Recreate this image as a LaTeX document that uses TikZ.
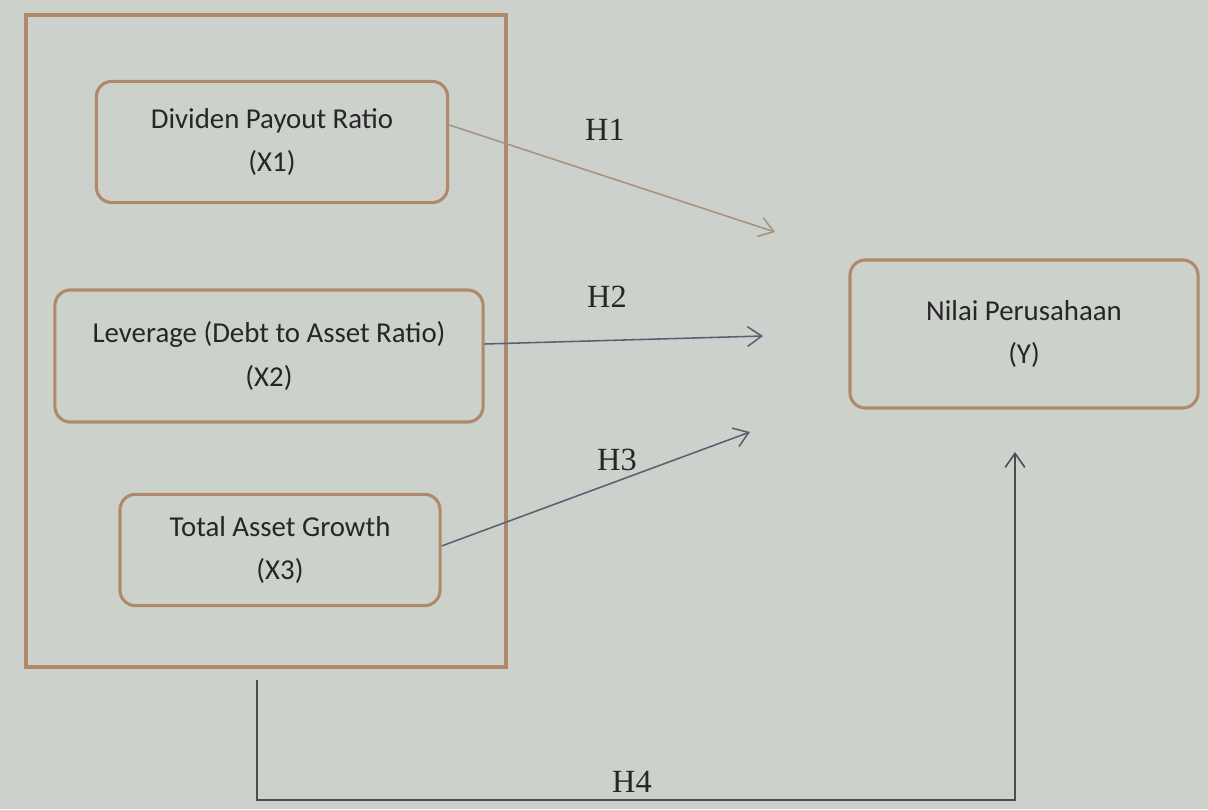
\documentclass[tikz,border=0pt]{standalone}
\usepackage{fontspec}
\setmainfont{Liberation Serif}
\newfontfamily\boxfont{Carlito}
\usetikzlibrary{arrows.meta}
\definecolor{bg}{HTML}{CDD1CC}
\definecolor{tan}{HTML}{B0896A}
\definecolor{arrtan}{HTML}{A8927E}
\definecolor{arrblue}{HTML}{596170}
\definecolor{arrdark}{HTML}{4A4D50}
\definecolor{ink}{HTML}{262626}
\tikzset{
  varbox/.style={draw=tan, line width=2.2pt, rounded corners=11pt, fill=bg,
    align=center, text=ink, font=\boxfont\fontsize{20.5}{31}\selectfont, inner sep=0pt},
  grpbox/.style={draw=tan, line width=2.4pt, inner sep=0pt},
  link/.style={line width=1.1pt, -{Straight Barb[length=10pt,width=14pt]}},
  hlab/.style={text=ink, font=\fontsize{23}{26}\selectfont, inner sep=0pt}
}
\begin{document}
\begin{tikzpicture}[x=0.025cm,y=-0.025cm]
\fill[bg] (0,0) rectangle (1208,809);
\useasboundingbox (0,0) rectangle (1208,809);
\node[grpbox, minimum width=12cm, minimum height=16.3cm] (grp) at (266,341) {};
\node[varbox, minimum width=8.78cm, minimum height=3.03cm] (x1) at (272,142) {Dividen Payout Ratio\\(X1)};
\node[varbox, minimum width=10.7cm, minimum height=3.3cm] (x2) at (269,356) {Leverage (Debt to Asset Ratio)\\(X2)};
\node[varbox, minimum width=8cm, minimum height=2.78cm] (x3) at (280,550) {Total Asset Growth\\(X3)};
\node[varbox, minimum width=8.7cm, minimum height=3.7cm] (y) at (1024,334) {Nilai Perusahaan\\(Y)};
\coordinate (e1) at (775,232);
\coordinate (e2) at (763,336);
\coordinate (e3) at (750,432);
\coordinate (s4) at (257,680);
\coordinate (b4) at (257,800);
\coordinate (e4) at (1015,452);
\draw[link, arrtan] ([yshift=0.425cm]x1.east) -- (e1);
\draw[link, arrblue] ([yshift=0.3cm]x2.east) -- (e2);
\draw[link, arrblue] ([yshift=0.1cm]x3.east) -- (e3);
\draw[link, arrdark] (s4) -- (b4) -| (e4);
\node[hlab] (h1) at (605,130) {H1};
\node[hlab] (h2) at (607,297) {H2};
\node[hlab] (h3) at (617,460) {H3};
\node[hlab] (h4) at (632,782) {H4};
\end{tikzpicture}
\end{document}
